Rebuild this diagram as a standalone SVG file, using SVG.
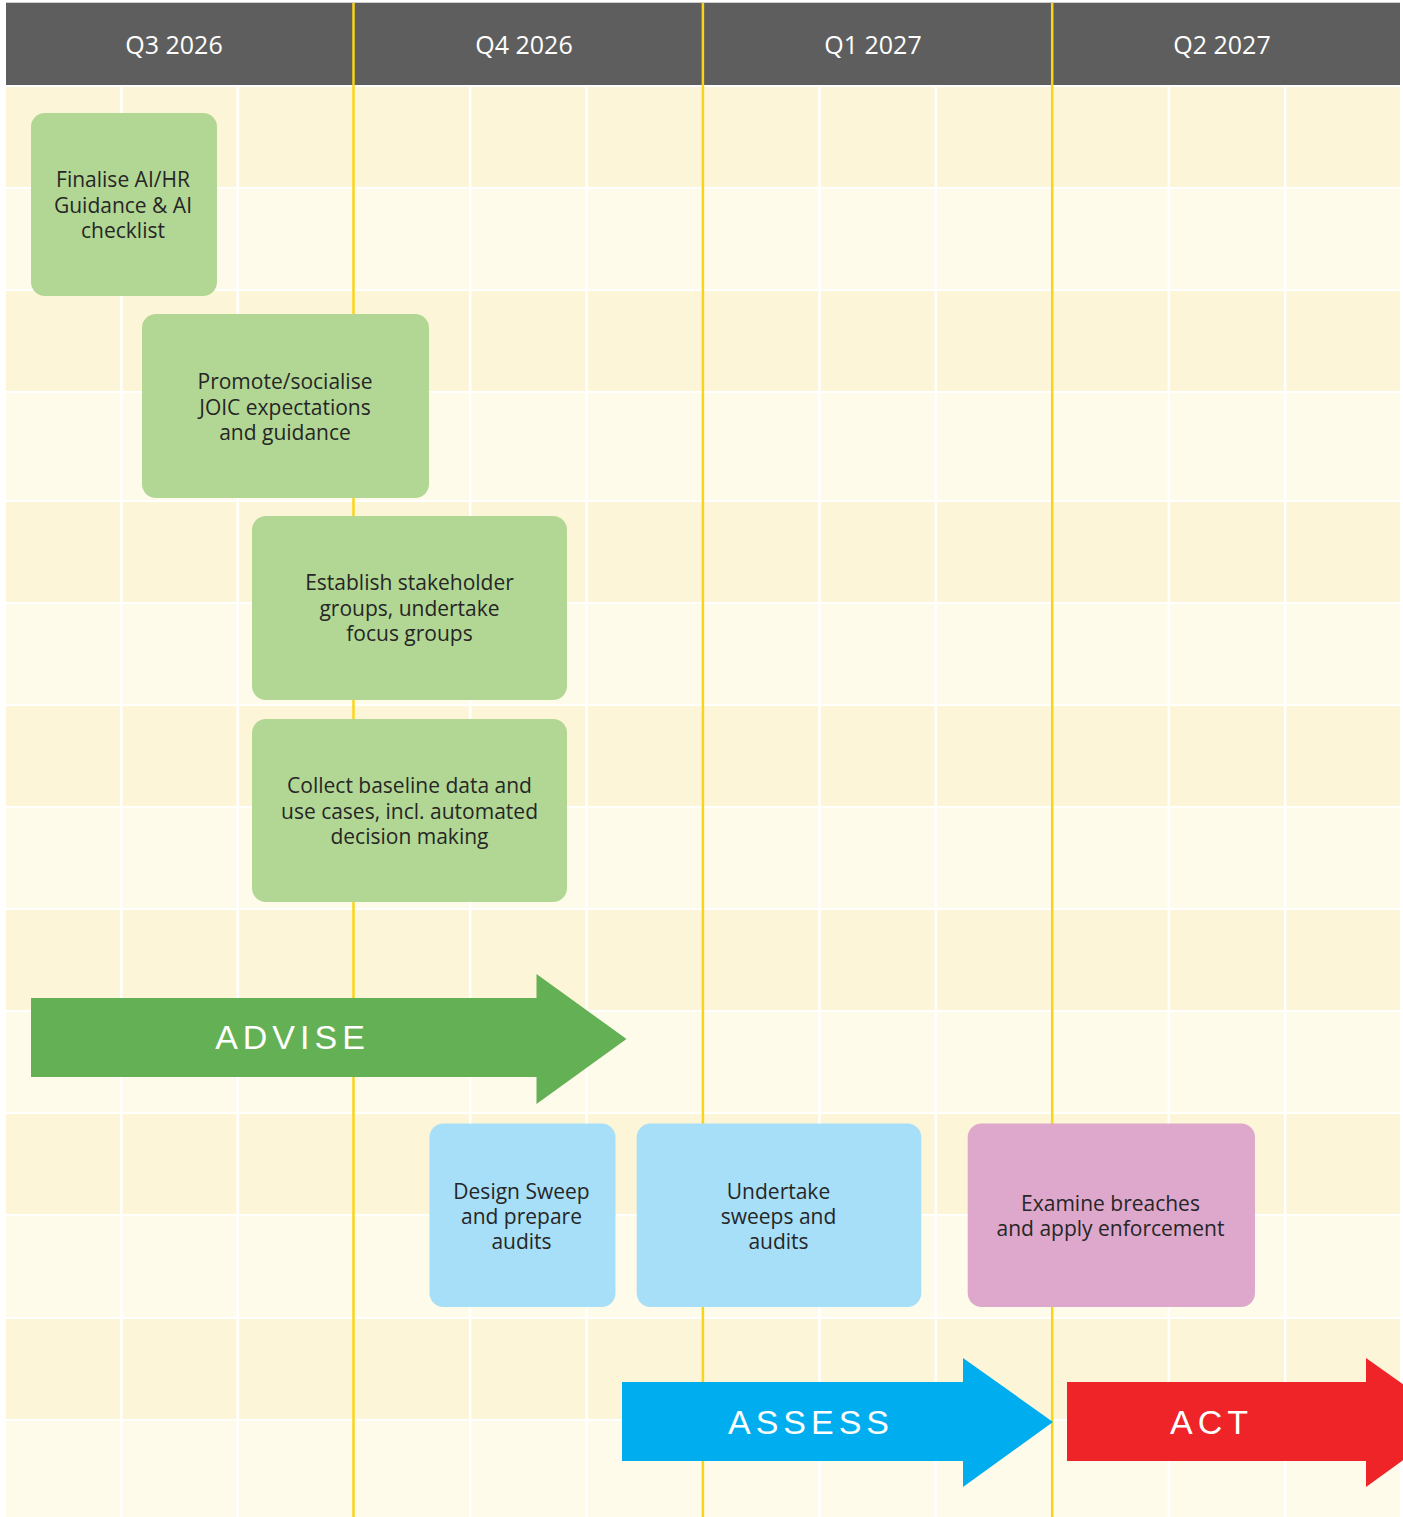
<svg xmlns="http://www.w3.org/2000/svg" width="1403" height="1517" viewBox="0 0 1403 1517">
<style>
.dark{fill:#fdf5d7}
.light{fill:#fefbeb}
.vline{stroke:#ffffff;stroke-width:2.5}
.yline{stroke:#f8d51a;stroke-width:2.5}
.hdr{font-family:"Open Sans","Noto Sans",sans-serif;font-size:25px;fill:#ffffff;text-anchor:middle}
.box text{font-family:"Open Sans","Noto Sans",sans-serif;font-size:21px;fill:#262626;text-anchor:middle}
.g{fill:#b2d794}
.b{fill:#a7dff8}
.p{fill:#dda8cc}
.lbl{font-family:"Liberation Sans",Arial,sans-serif;font-size:34px;fill:#ffffff;text-anchor:middle;letter-spacing:5px}
</style>
<rect x="0" y="0" width="1403" height="1517" fill="#ffffff"/>
<g id="grid">
<rect class="dark" x="6" y="87" width="1394" height="100"/>
<rect class="light" x="6" y="189" width="1394" height="100"/>
<rect class="dark" x="6" y="291" width="1394" height="100"/>
<rect class="light" x="6" y="393" width="1394" height="107"/>
<rect class="dark" x="6" y="502" width="1394" height="100"/>
<rect class="light" x="6" y="604" width="1394" height="100"/>
<rect class="dark" x="6" y="706" width="1394" height="100"/>
<rect class="light" x="6" y="808" width="1394" height="100"/>
<rect class="dark" x="6" y="910" width="1394" height="100"/>
<rect class="light" x="6" y="1012" width="1394" height="100"/>
<rect class="dark" x="6" y="1114" width="1394" height="100"/>
<rect class="light" x="6" y="1216" width="1394" height="101"/>
<rect class="dark" x="6" y="1319" width="1394" height="100"/>
<rect class="light" x="6" y="1421" width="1394" height="96"/>
<line class="vline" x1="121.3" y1="85" x2="121.3" y2="1517"/>
<line class="vline" x1="237.7" y1="85" x2="237.7" y2="1517"/>
<line class="vline" x1="470.2" y1="85" x2="470.2" y2="1517"/>
<line class="vline" x1="586.6" y1="85" x2="586.6" y2="1517"/>
<line class="vline" x1="819.5" y1="85" x2="819.5" y2="1517"/>
<line class="vline" x1="935.9" y1="85" x2="935.9" y2="1517"/>
<line class="vline" x1="1168.8" y1="85" x2="1168.8" y2="1517"/>
<line class="vline" x1="1285.2" y1="85" x2="1285.2" y2="1517"/>
</g>
<g id="header">
<rect x="6" y="3" width="1394" height="82" fill="#5e5e5e"/>
<line x1="6" y1="2.5" x2="1400" y2="2.5" stroke="#cfcfcf" stroke-width="1"/>
<text class="hdr" x="174" y="54">Q3 2026</text>
<text class="hdr" x="524" y="54">Q4 2026</text>
<text class="hdr" x="873" y="54">Q1 2027</text>
<text class="hdr" x="1222" y="54">Q2 2027</text>
</g>
<g id="quarter-lines">
<line class="yline" x1="353.5" y1="3" x2="353.5" y2="1517"/>
<line class="yline" x1="702.9" y1="3" x2="702.9" y2="1517"/>
<line class="yline" x1="1052.2" y1="3" x2="1052.2" y2="1517"/>
</g>
<g id="n-finalise" class="box">
<rect class="g" x="31" y="113" width="186" height="183" rx="14"/>
<text x="123" y="187">Finalise AI/HR</text>
<text x="123" y="212.5">Guidance &amp; AI</text>
<text x="123" y="237.5">checklist</text>
</g>
<g id="n-promote" class="box">
<rect class="g" x="142" y="314" width="287" height="184" rx="14"/>
<text x="285" y="389">Promote/socialise</text>
<text x="285" y="414.5">JOIC expectations</text>
<text x="285" y="439.5">and guidance</text>
</g>
<g id="n-establish" class="box">
<rect class="g" x="252" y="516" width="315" height="184" rx="14"/>
<text x="409.5" y="590">Establish stakeholder</text>
<text x="409.5" y="615.5">groups, undertake</text>
<text x="409.5" y="640.5">focus groups</text>
</g>
<g id="n-collect" class="box">
<rect class="g" x="252" y="719" width="315" height="183" rx="14"/>
<text x="409.5" y="793">Collect baseline data and</text>
<text x="409.5" y="818.5">use cases, incl. automated</text>
<text x="409.5" y="843.5">decision making</text>
</g>
<g id="n-design" class="box">
<rect class="b" x="429.5" y="1123.5" width="186" height="183.5" rx="14"/>
<text x="521.5" y="1198.5">Design Sweep</text>
<text x="521.5" y="1223.5">and prepare</text>
<text x="521.5" y="1248.5">audits</text>
</g>
<g id="n-undertake" class="box">
<rect class="b" x="636.7" y="1123.5" width="284.6" height="183.5" rx="14"/>
<text x="778.5" y="1198.5">Undertake</text>
<text x="778.5" y="1223.5">sweeps and</text>
<text x="778.5" y="1248.5">audits</text>
</g>
<g id="n-examine" class="box">
<rect class="p" x="967.7" y="1123.5" width="287.3" height="183.5" rx="14"/>
<text x="1110.5" y="1211">Examine breaches</text>
<text x="1110.5" y="1236">and apply enforcement</text>
</g>
<g id="connectors">
<g id="arrow-advise">
<polygon fill="#64b054" points="31,998 536.5,998 536.5,974 626.5,1039 536.5,1104 536.5,1077 31,1077"/>
<text class="lbl" x="292.5" y="1049">ADVISE</text>
</g>
<g id="arrow-assess">
<polygon fill="#00aeef" points="622,1382 963,1382 963,1358 1053,1422 963,1487 963,1461 622,1461"/>
<text class="lbl" x="811" y="1434">ASSESS</text>
</g>
<g id="arrow-act">
<polygon fill="#ee2429" points="1067,1382 1366,1382 1366,1358 1456,1422 1366,1487 1366,1461 1067,1461"/>
<text class="lbl" x="1211.5" y="1434">ACT</text>
</g>
</g>
</svg>
